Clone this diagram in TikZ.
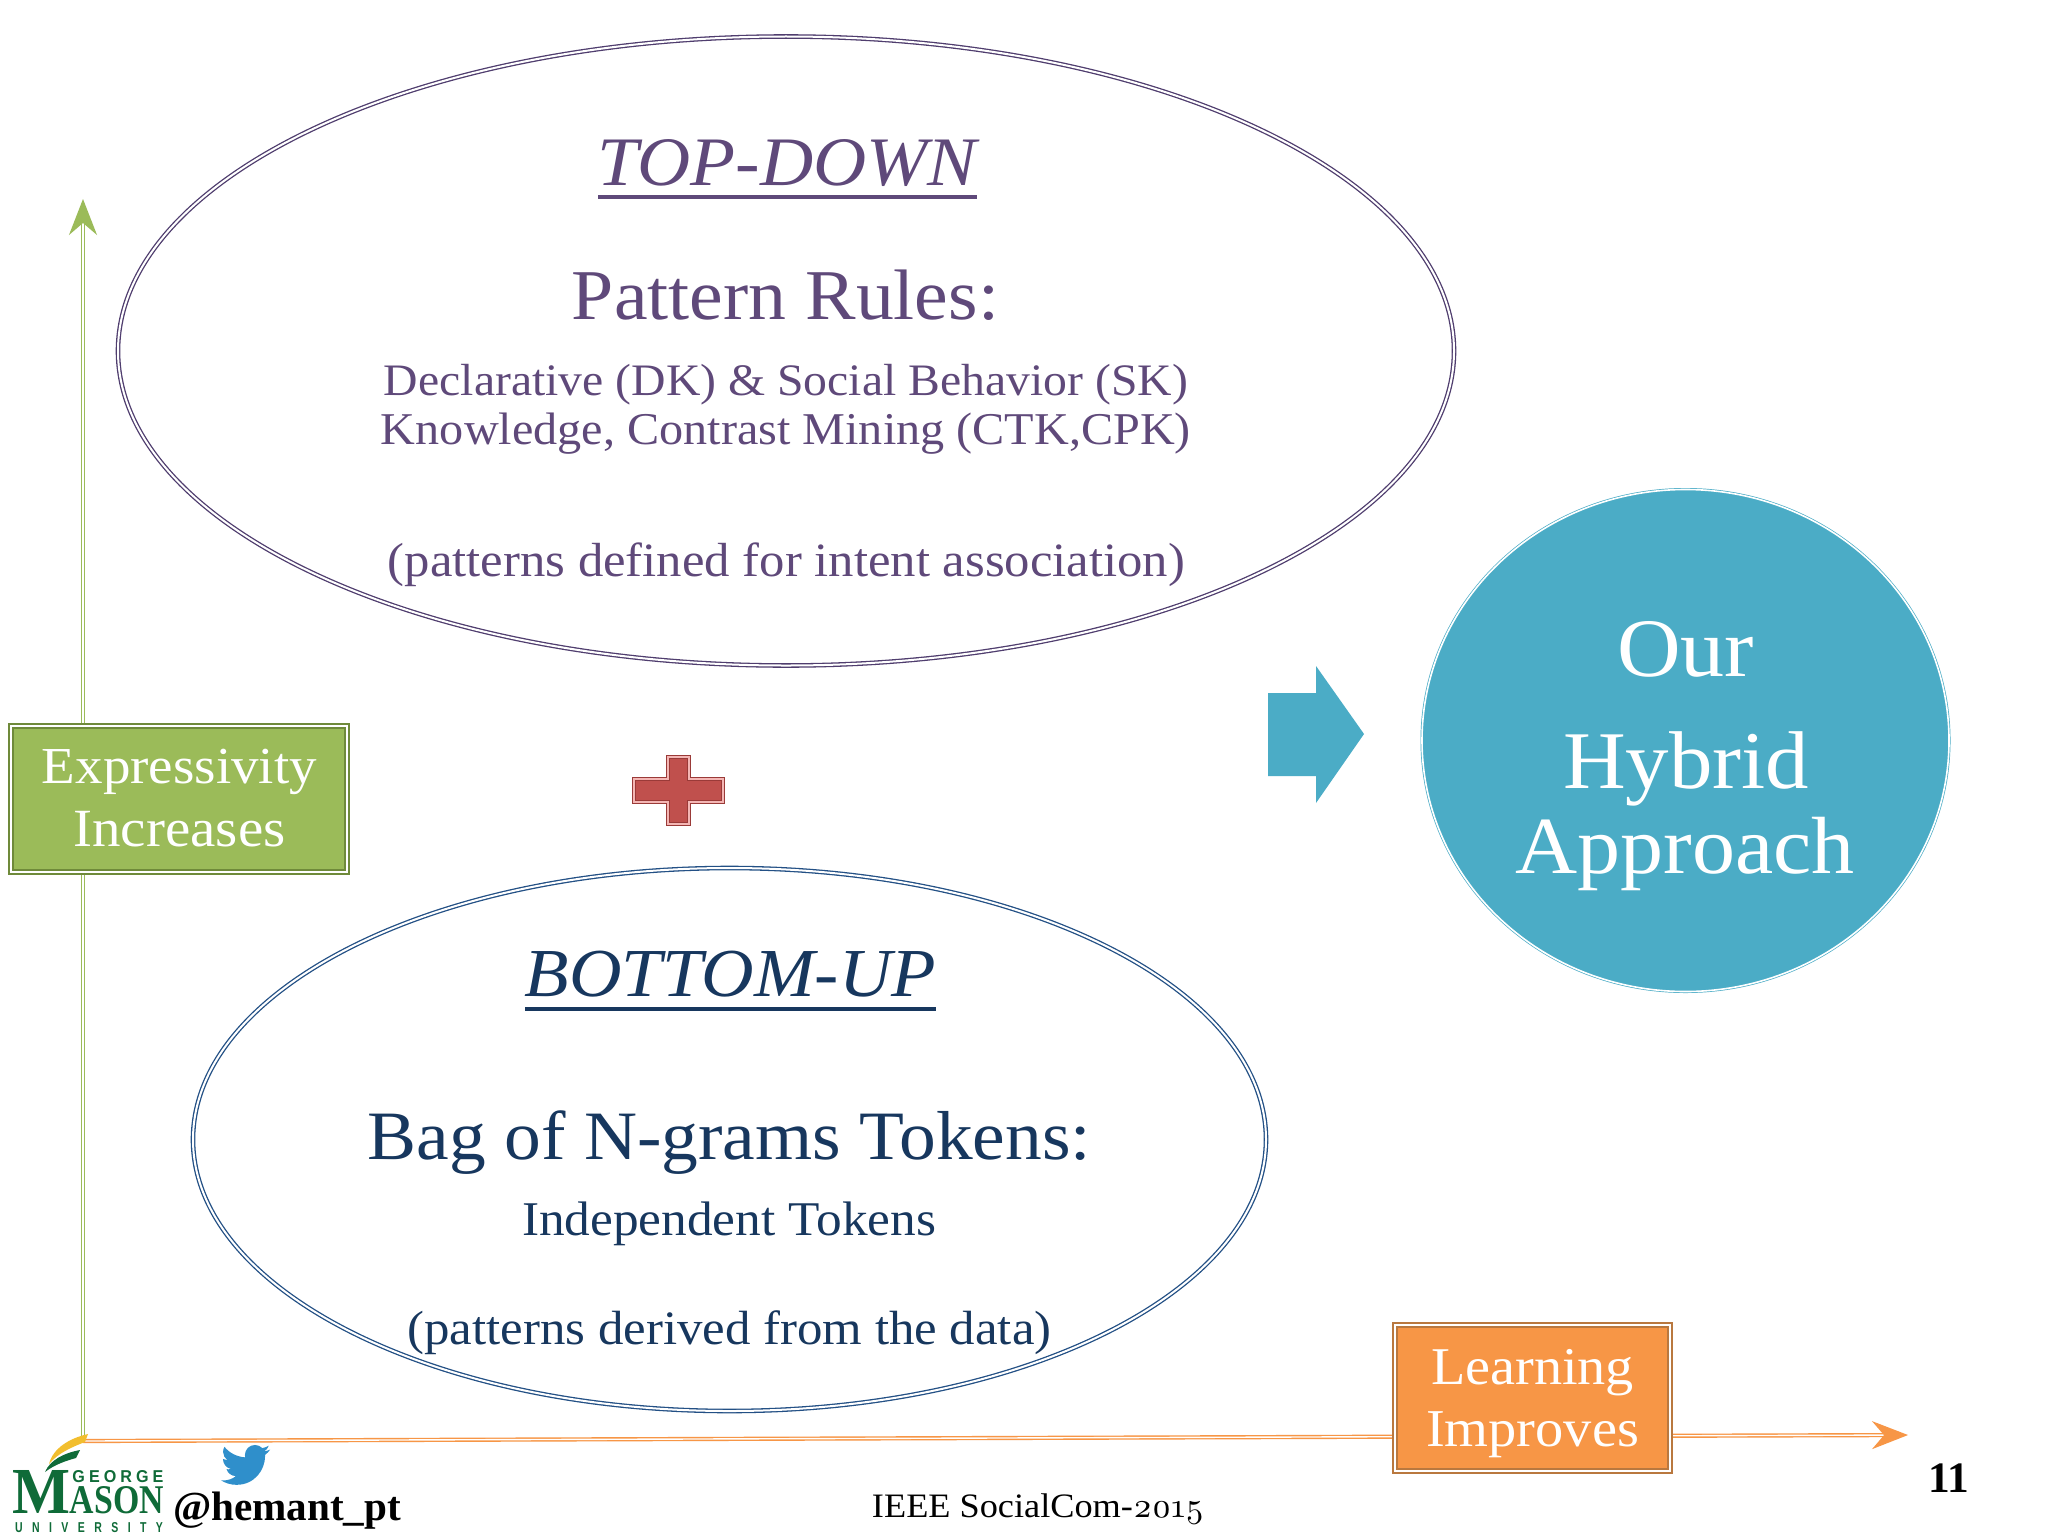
\documentclass[tikz,border=0pt]{standalone}
\usepackage{fontspec}
\usepackage{graphicx}
\setmainfont[FakeStretch=1.06]{Liberation Serif}
\newfontfamily\logosans[LetterSpace=25]{Liberation Sans}
\newfontfamily\logosanswide[LetterSpace=90]{Liberation Sans}
\newfontfamily\logoserif{Liberation Serif}
\newfontfamily\plainserif{Liberation Serif}
\newfontfamily\onum[Numbers=OldStyle]{Latin Modern Roman}
\usetikzlibrary{arrows.meta,shapes.geometric,svg.path}
\definecolor{purp}{HTML}{5F497A}
\definecolor{purpl}{HTML}{4F3D6E}
\definecolor{navy}{HTML}{17375E}
\definecolor{navyl}{HTML}{235085}
\definecolor{teal}{HTML}{4BACC6}
\definecolor{grn}{HTML}{9BBB59}
\definecolor{grnd}{HTML}{6F8A3A}
\definecolor{org}{HTML}{F79646}
\definecolor{orgd}{HTML}{B9783F}
\definecolor{redc}{HTML}{C0504D}
\definecolor{redd}{HTML}{9A3A38}
\definecolor{redl}{HTML}{F4B6B4}
\definecolor{gmu}{HTML}{0F6B38}
\definecolor{gold}{HTML}{F2BE2E}
\definecolor{twit}{HTML}{2F8FCB}
\newdimen\lblw
\newdimen\lblh
\newcommand\lbl[6]{\lblw=#4pt \lblw=0.5\lblw
  \node[anchor=base,inner sep=0pt,outer sep=0pt,text=#5] (#1) at (#2,#3) {\resizebox{\lblw}{!}{#6}};}
\newcommand\logotxt[6]{\lblw=#4pt \lblw=0.5\lblw \lblh=#5pt \lblh=0.5\lblh
  \node[anchor=base,inner sep=0pt,outer sep=0pt,text=gmu] (#1) at (#2,#3) {\resizebox{\lblw}{\lblh}{#6}};}
\tikzset{
  bigell/.style={ellipse,inner sep=0pt,double distance=1pt,line width=0.65pt},
  tagbox/.style={rectangle,inner sep=0pt,line width=0.8pt,double=white,double distance=1.1pt},
  axisline/.style={line width=0.7pt,double=white,double distance=0.7pt},
  ulinestyle/.style={line width=1.8pt},
}
\begin{document}
\begin{tikzpicture}[x=0.5pt,y=-0.5pt]
\useasboundingbox (0,0) rectangle (2048,1536);
\fill[white] (0,0) rectangle (2048,1536);
% axes
\coordinate (orig) at (83,1441);
\coordinate (gtip) at (83,199);
\coordinate (otip) at (1908,1435);
\draw[axisline,draw=grn,-{Stealth[length=18pt,width=14pt,inset=6pt]}] (orig) -- (gtip);
\draw[axisline,draw=org,-{Stealth[length=18pt,width=14pt,inset=6pt]}] (orig) -- (otip);
% ellipses
\node[bigell,draw=purpl,double=white,minimum width=668pt,minimum height=314.5pt] (top) at (786,351) {};
\node[bigell,draw=navyl,double=white,minimum width=536.5pt,minimum height=271.5pt] (bot) at (729.5,1139.5) {};
\node[ellipse,inner sep=0pt,draw=teal,fill=teal,double=white,double distance=0.8pt,line width=0.35pt,minimum width=263.5pt,minimum height=251pt] (hyb) at (1685.5,740.5) {};
% boxes
\node[tagbox,draw=grnd,fill=grn,minimum width=168pt,minimum height=73pt] (gbox) at (179,799) {};
\node[tagbox,draw=orgd,fill=org,minimum width=137.5pt,minimum height=73pt] (obox) at (1532.5,1398) {};
% plus
\draw[draw=redd,double=redl,double distance=0.8pt,line width=0.6pt,fill=redc] (668,757) -- (689,757) -- (689,779) -- (723,779) -- (723,802) -- (689,802) -- (689,824) -- (668,824) -- (668,802) -- (634,802) -- (634,779) -- (668,779) -- cycle;
\fill[redc] (671,760) -- (686,760) -- (686,782) -- (720,782) -- (720,799) -- (686,799) -- (686,821) -- (671,821) -- (671,799) -- (637,799) -- (637,782) -- (671,782) -- cycle;
% block arrow
\fill[teal] (1268,693) -- (1316,693) -- (1316,666) -- (1364,734) -- (1316,803) -- (1316,776) -- (1268,776) -- cycle;
% top ellipse text
\lbl{t1}{787.5}{185}{379}{purp}{\itshape TOP-DOWN}
\draw[purp,ulinestyle] (598,197) -- (977,197);
\lbl{t2}{785.5}{319}{427}{purp}{Pattern Rules:}
\lbl{t3}{786}{395}{804}{purp}{Declarative (DK) \& Social Behavior (SK)}
\lbl{t4}{786}{444}{810}{purp}{Knowledge, Contrast Mining (CTK,CPK)}
\lbl{t5}{786.5}{576}{797}{purp}{(patterns defined for intent association)}
% bottom ellipse text
\lbl{b1}{730.5}{996}{411}{navy}{\itshape BOTTOM-UP}
\draw[navy,ulinestyle] (525,1009) -- (936,1009);
\lbl{b2}{729.5}{1159}{723}{navy}{Bag of N-grams Tokens:}
\lbl{b3}{729}{1235}{414}{navy}{Independent Tokens}
\lbl{b4}{729.5}{1344}{644}{navy}{(patterns derived from the data)}
% hybrid
\lbl{h1}{1685.5}{676}{137}{white}{Our}
\lbl{h2}{1686}{788}{246}{white}{Hybrid}
\lbl{h3}{1685}{873}{339}{white}{Approach}
% tags
\lbl{g1}{179.5}{783}{275}{white}{Expressivity}
\lbl{g2}{179.5}{846}{212}{white}{Increases}
\lbl{o1}{1532.5}{1384}{203}{white}{Learning}
\lbl{o2}{1532.5}{1446}{213}{white}{Improves}
% footer
\lbl{conf}{1038}{1517}{332}{black}{IEEE SocialCom-{\onum 2015}}
\lbl{num}{1949}{1492}{41}{black}{\bfseries\plainserif 11}
\lbl{hand}{287}{1520}{228}{black}{\bfseries\plainserif @hemant\_pt}
% logo
\fill[gold] (88,1434) .. controls (70,1438) and (53,1448) .. (49,1464) .. controls (58,1453) and (72,1447) .. (85,1442) -- cycle;
\fill[gmu] (80,1450) .. controls (64,1453) and (50,1460) .. (45,1472) .. controls (54,1465) and (65,1461) .. (76,1458) -- cycle;
\logotxt{lg1}{118}{1482}{91}{12}{\bfseries\logosans GEORGE}
\logotxt{lgm}{42}{1513}{58}{43}{\bfseries\logoserif M}
\logotxt{lg2}{117}{1513}{94}{27}{\bfseries\logoserif ASON}
\logotxt{lg3}{89}{1532}{148}{10}{\bfseries\logosanswide UNIVERSITY}
% bird
\begin{scope}[shift={(219,1439)},yscale=-1.08,xscale=1.08]
\fill[twit] svg {M23.643 4.937c-.835.37-1.732.62-2.675.733.962-.576 1.7-1.49 2.048-2.578-.9.534-1.897.922-2.958 1.13-.85-.904-2.06-1.47-3.4-1.47-2.572 0-4.658 2.086-4.658 4.66 0 .364.042.718.12 1.06-3.873-.195-7.304-2.05-9.602-4.868-.4.69-.63 1.49-.63 2.342 0 1.616.823 3.043 2.072 3.878-.764-.025-1.482-.234-2.11-.583v.06c0 2.257 1.605 4.14 3.737 4.568-.392.106-.803.162-1.227.162-.3 0-.593-.028-.877-.082.593 1.85 2.313 3.198 4.352 3.234-1.595 1.25-3.604 1.995-5.786 1.995-.376 0-.747-.022-1.112-.065 2.062 1.323 4.51 2.093 7.14 2.093 8.57 0 13.255-7.098 13.255-13.254 0-.2-.005-.402-.014-.602.91-.658 1.7-1.477 2.323-2.41z};
\end{scope}
\end{tikzpicture}
\end{document}
